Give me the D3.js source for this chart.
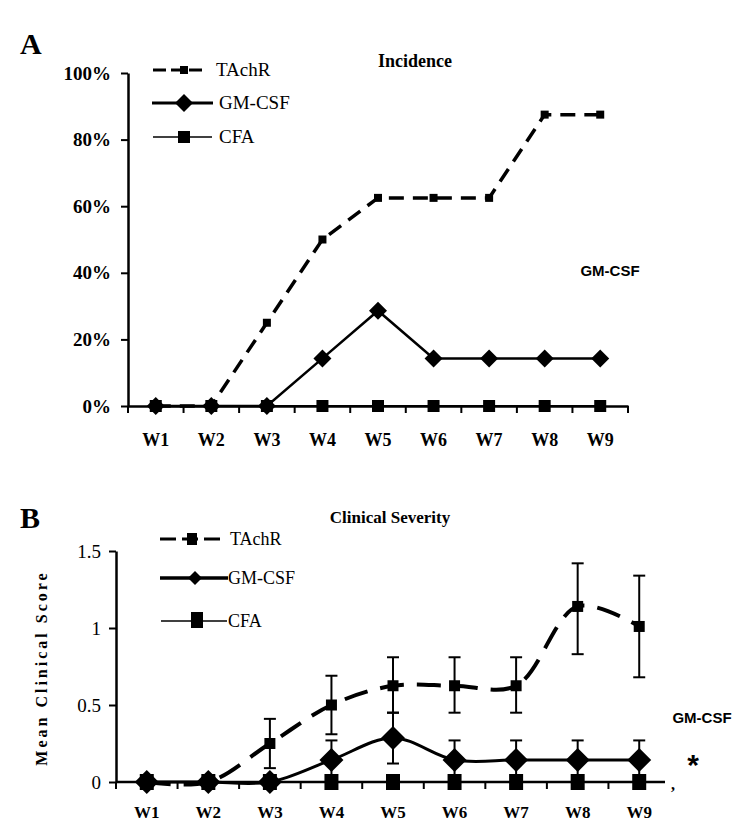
<!DOCTYPE html>
<html><head><meta charset="utf-8">
<script src="https://cdn.jsdelivr.net/npm/d3@7"></script>
<style>body{margin:0;background:#fff}svg{display:block}</style>
</head><body>
<svg id="c" width="750" height="834"></svg>
<script>
const weeks = ["W1","W2","W3","W4","W5","W6","W7","W8","W9"];
// Panel A: incidence (%)
const incTAchR = [0,0,25,50,62.5,62.5,62.5,87.5,87.5];
const incGMCSF = [0,0,0,14.3,28.6,14.3,14.3,14.3,14.3];
const incCFA   = [0,0,0,0,0,0,0,0,0];
const incTicks = [0,20,40,60,80,100];
// Panel B: mean clinical score
const sevTAchR   = [0,0,0.25,0.5,0.625,0.625,0.625,1.14,1.01];
const sevTAchRHi = [null,null,0.41,0.69,0.81,0.81,0.81,1.42,1.34];
const sevTAchRLo = [null,null,0.09,0.31,0.45,0.45,0.45,0.83,0.68];
const sevGMCSF   = [0,0,0,0.143,0.286,0.143,0.143,0.143,0.143];
const sevGMCSFHi = [null,null,null,0.27,0.45,0.27,0.27,0.27,0.27];
const sevGMCSFLo = [null,null,null,0.02,0.12,0.02,0.02,0.02,0.02];
const sevCFA     = [0,0,0,0,0,0,0,0,0];
const sevTicks = [0,0.5,1,1.5];

const svg = d3.select("#c");
const serif = "'Liberation Serif','Times New Roman',serif";
const sans = "'Liberation Sans',Arial,sans-serif";

function diamond(g, x, y, s){
  g.append("path").attr("d",`M${x},${y-s}L${x+s},${y}L${x},${y+s}L${x-s},${y}Z`).attr("fill","#000");
}
function square(g, x, y, w, h){
  g.append("rect").attr("x",x-w/2).attr("y",y-h/2).attr("width",w).attr("height",h).attr("fill","#000");
}

// ---------- Panel A ----------
{
  const x = d3.scaleBand().domain(weeks).range([128,628]);
  const y = d3.scaleLinear().domain([0,100]).range([406,73]);
  const cx = d => x(d)+x.bandwidth()/2;
  const g = svg.append("g");
  g.append("text").attr("x",20).attr("y",54).attr("font-family",serif).attr("font-weight","bold").attr("font-size",30).text("A");
  g.append("text").attr("x",415).attr("y",67).attr("text-anchor","middle").attr("font-family",serif).attr("font-weight","bold").attr("font-size",18).text("Incidence");

  const ya = g.append("g").attr("transform","translate(128,0)")
    .call(d3.axisLeft(y).tickValues(incTicks).tickSize(7).tickSizeOuter(0).tickFormat(d=>d+"%").tickPadding(10));
  ya.select(".domain").attr("stroke-width",2.5);
  ya.selectAll(".tick line").attr("stroke-width",2);
  ya.selectAll("text").attr("font-family",serif).attr("font-weight","bold").attr("font-size",19);
  const xa = g.append("g").attr("transform","translate(0,406)")
    .call(d3.axisBottom(x).tickSize(0).tickPadding(27));
  xa.select(".domain").attr("stroke-width",2.5);
  xa.selectAll("text").attr("font-family",serif).attr("font-weight","bold").attr("font-size",18);
  x.domain().forEach(d=>{
    const bx = x(d);
    g.append("line").attr("x1",bx).attr("x2",bx).attr("y1",406).attr("y2",413).attr("stroke","#000").attr("stroke-width",2);
  });
  g.append("line").attr("x1",628).attr("x2",628).attr("y1",406).attr("y2",413).attr("stroke","#000").attr("stroke-width",2);

  const line = d3.line().x((d,i)=>cx(weeks[i])).y(d=>y(d));
  g.append("path").datum(incCFA).attr("d",line).attr("fill","none").attr("stroke","#000").attr("stroke-width",2);
  g.append("path").datum(incGMCSF).attr("d",line).attr("fill","none").attr("stroke","#000").attr("stroke-width",2.5);
  g.append("path").datum(incTAchR).attr("d",line).attr("fill","none").attr("stroke","#000").attr("stroke-width",3.5).attr("stroke-dasharray","15,9");
  incCFA.forEach((v,i)=>square(g,cx(weeks[i]),y(v),12,12));
  incGMCSF.forEach((v,i)=>diamond(g,cx(weeks[i]),y(v),9));
  incTAchR.forEach((v,i)=>square(g,cx(weeks[i]),y(v),8,8));

  const lg = g.append("g");
  lg.append("line").attr("x1",153).attr("x2",207).attr("y1",70).attr("y2",70).attr("stroke","#000").attr("stroke-width",3).attr("stroke-dasharray","13,5");
  square(lg,184,70,8,8);
  lg.append("line").attr("x1",152).attr("x2",213).attr("y1",103).attr("y2",103).attr("stroke","#000").attr("stroke-width",3);
  diamond(lg,184,103,9);
  lg.append("line").attr("x1",153).attr("x2",212).attr("y1",137).attr("y2",137).attr("stroke","#000").attr("stroke-width",1.5);
  square(lg,184,137,12,12);
  [["TAchR",70],["GM-CSF",103],["CFA",137]].forEach(([t,yy])=>{
    lg.append("text").attr("x",t==="TAchR"?216:219).attr("y",yy+6).attr("font-family",serif).attr("font-size",19).text(t);
  });
  g.append("text").attr("x",610).attr("y",276).attr("text-anchor","middle").attr("font-family",sans).attr("font-weight","bold").attr("font-size",15).text("GM-CSF");
}

// ---------- Panel B ----------
{
  const x = d3.scaleBand().domain(weeks).range([116,670]);
  const y = d3.scaleLinear().domain([0,1.5]).range([782,551]);
  const cx = d => x(d)+x.bandwidth()/2;
  const g = svg.append("g");
  g.append("text").attr("x",20).attr("y",528).attr("font-family",serif).attr("font-weight","bold").attr("font-size",30).text("B");
  g.append("text").attr("x",390).attr("y",523).attr("text-anchor","middle").attr("font-family",serif).attr("font-weight","bold").attr("font-size",17).text("Clinical Severity");
  g.append("text").attr("transform","translate(47,668) rotate(-90)").attr("text-anchor","middle")
    .attr("font-family",serif).attr("font-weight","bold").attr("font-size",16).attr("letter-spacing",3).text("Mean Clinical Score");

  const ya = g.append("g").attr("transform","translate(116,0)")
    .call(d3.axisLeft(y).tickValues(sevTicks).tickSize(7).tickSizeOuter(0).tickFormat(d=>String(d)).tickPadding(8));
  ya.select(".domain").attr("stroke-width",2.5);
  ya.selectAll(".tick line").attr("stroke-width",2);
  ya.selectAll("text").attr("font-family",serif).attr("font-size",19);

  g.append("line").attr("x1",116).attr("x2",665).attr("y1",782).attr("y2",782).attr("stroke","#000").attr("stroke-width",2.5);
  const xa = g.append("g").attr("transform","translate(0,782)")
    .call(d3.axisBottom(x).tickSize(0).tickPadding(24));
  xa.select(".domain").remove();
  xa.selectAll("text").attr("font-family",serif).attr("font-weight","bold").attr("font-size",17);
  x.domain().forEach((d,i)=>{
    if(i===0) return;
    const bx = x(d);
    g.append("line").attr("x1",bx).attr("x2",bx).attr("y1",782).attr("y2",789).attr("stroke","#000").attr("stroke-width",2);
  });
  g.append("line").attr("x1",116).attr("x2",116).attr("y1",782).attr("y2",789).attr("stroke","#000").attr("stroke-width",2);

  const line = d3.line().x((d,i)=>cx(weeks[i])).y(d=>y(d)).curve(d3.curveCatmullRom.alpha(0.5));
  const straight = d3.line().x((d,i)=>cx(weeks[i])).y(d=>y(d));

  function ebars(hi, lo){
    hi.forEach((h,i)=>{
      if(h===null) return;
      const xx = cx(weeks[i]);
      g.append("line").attr("x1",xx).attr("x2",xx).attr("y1",y(h)).attr("y2",y(lo[i])).attr("stroke","#000").attr("stroke-width",2);
      [h,lo[i]].forEach(v=>g.append("line").attr("x1",xx-6).attr("x2",xx+6).attr("y1",y(v)).attr("y2",y(v)).attr("stroke","#000").attr("stroke-width",2));
    });
  }
  ebars(sevTAchRHi, sevTAchRLo);
  ebars(sevGMCSFHi, sevGMCSFLo);

  g.append("path").datum(sevCFA).attr("d",straight).attr("fill","none").attr("stroke","#000").attr("stroke-width",2);
  g.append("path").datum(sevGMCSF).attr("d",line).attr("fill","none").attr("stroke","#000").attr("stroke-width",3);
  g.append("path").datum(sevTAchR).attr("d",line).attr("fill","none").attr("stroke","#000").attr("stroke-width",4).attr("stroke-dasharray","24,13");
  sevCFA.forEach((v,i)=>square(g,cx(weeks[i]),y(v),14,16));
  sevGMCSF.forEach((v,i)=>diamond(g,cx(weeks[i]),y(v),12));
  sevTAchR.forEach((v,i)=>square(g,cx(weeks[i]),y(v),11,11));

  const lg = g.append("g");
  lg.append("line").attr("x1",160).attr("x2",220).attr("y1",539).attr("y2",539).attr("stroke","#000").attr("stroke-width",3).attr("stroke-dasharray","16,6");
  square(lg,192,539,10,12);
  lg.append("line").attr("x1",160).attr("x2",228).attr("y1",578).attr("y2",578).attr("stroke","#000").attr("stroke-width",3.5);
  diamond(lg,195,578,7);
  lg.append("line").attr("x1",161).attr("x2",227).attr("y1",621).attr("y2",621).attr("stroke","#000").attr("stroke-width",1.5);
  square(lg,197,620,12,16);
  [["TAchR",230,539],["GM-CSF",228,578],["CFA",228,621]].forEach(([t,xx,yy])=>{
    lg.append("text").attr("x",xx).attr("y",yy+6).attr("font-family",serif).attr("font-size",18).text(t);
  });

  g.append("text").attr("x",702).attr("y",723).attr("text-anchor","middle").attr("font-family",sans).attr("font-weight","bold").attr("font-size",15).text("GM-CSF");
  g.append("text").attr("x",693).attr("y",775).attr("text-anchor","middle").attr("font-family",sans).attr("font-weight","bold").attr("font-size",30).text("*");
  g.append("text").attr("x",671).attr("y",790).attr("font-family",serif).attr("font-weight","bold").attr("font-size",16).text(",");
}
</script>
</body></html>
